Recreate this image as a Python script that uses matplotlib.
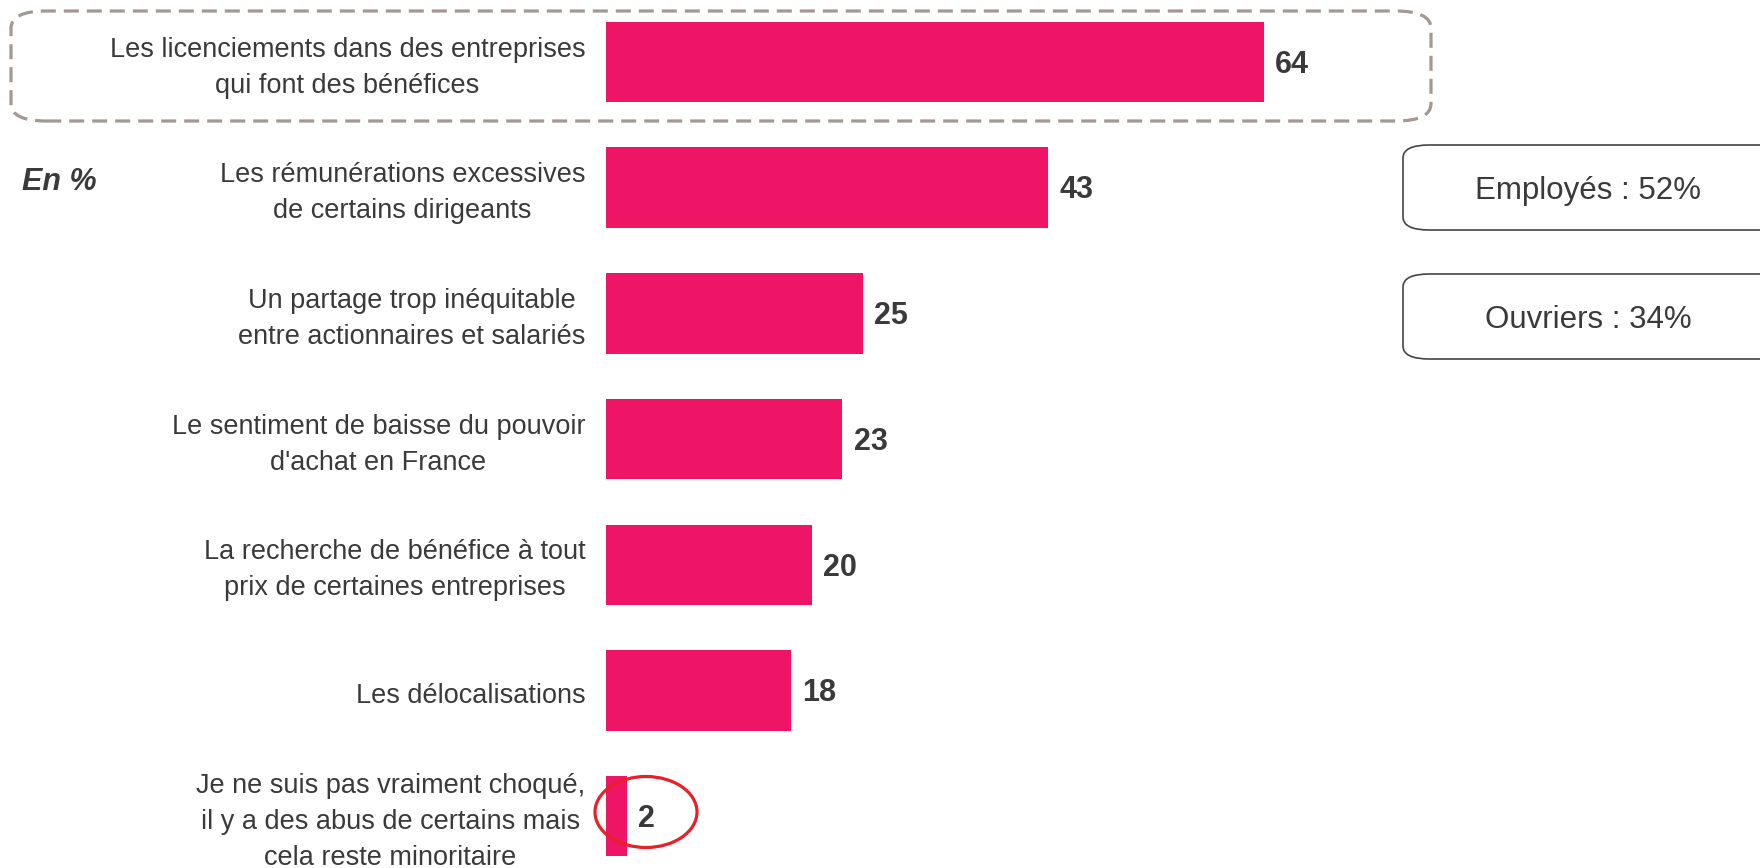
import numpy as np
import matplotlib.pyplot as plt
from matplotlib.patches import FancyBboxPatch, Ellipse

#********************************************#
# data
labels = ["Les licenciements dans des entreprises\nqui font des bénéfices",
          "Les rémunérations excessives\nde certains dirigeants",
          "Un partage trop inéquitable\nentre actionnaires et salariés",
          "Le sentiment de baisse du pouvoir\nd'achat en France",
          "La recherche de bénéfice à tout\nprix de certaines entreprises",
          "Les délocalisations",
          "Je ne suis pas vraiment choqué,\nil y a des abus de certains mais\ncela reste minoritaire"]
values = [64, 43, 25, 23, 20, 18, 2]
side_notes = ["Employés : 52%", "Ouvriers : 34%"]

bar_color = '#EE1466'
txt_color = '#3a3a3a'

#********************************************#
W, H = 1760, 868
plt.rcParams['font.family'] = ['Liberation Sans', 'DejaVu Sans']
fig = plt.figure(figsize=(W/100, H/100), dpi=100)

# axes spanning from the bar origin to the right edge
x0 = 606
ax = fig.add_axes([x0/W, 0, (W-x0)/W, 1])
ax.set_xlim(0, (W-x0)/10.28)
step = 125.7
ax.set_ylim((H-62)/step, -62/step)
ax.axis('off')

pos = np.arange(len(values))
ax.barh(pos, values, height=0.64, color=bar_color)

for i, v in enumerate(values):
    ax.annotate(str(v), (v, i), xytext=(8, -2), textcoords='offset points',
                ha='left', va='center', fontsize=22, fontweight='bold', color=txt_color)
    ax.annotate(labels[i], (0, i), xytext=(-15, -4), textcoords='offset points',
                ha='right', va='center', multialignment='center', fontsize=19.5,
                color=txt_color, linespacing=1.5, annotation_clip=False)

# "En %" label
fig.text(22/W, 1-182/H, 'En %', fontsize=22, fontweight='bold', fontstyle='italic',
         color=txt_color, va='center', ha='left')

# dashed highlight box round the first item
box = FancyBboxPatch((11/W, 1-121/H), (1431-11)/W, (121-11)/H,
                     boxstyle='round,pad=0,rounding_size=0.02', transform=fig.transFigure,
                     fill=False, edgecolor='#a39893', linewidth=2.3, linestyle=(0, (4.7, 2.5)))
fig.patches.append(box)

# side note boxes
for k, (top, bot) in enumerate([(145, 230), (274, 359)]):
    nb = FancyBboxPatch((1403/W, 1-bot/H), 400/W, (bot-top)/H,
                        boxstyle='round,pad=0,rounding_size=0.015', transform=fig.transFigure,
                        fill=False, edgecolor='#444444', linewidth=1.2)
    fig.patches.append(nb)
    fig.text(1588/W, 1-((top+bot)/2+4)/H, side_notes[k], fontsize=22.5, color=txt_color,
             ha='center', va='center')

# red ellipse round the smallest value
el = Ellipse((646/W, 1-812/H), 102/W, 71/H, transform=fig.transFigure,
             fill=False, edgecolor='#e8202a', linewidth=2.3)
fig.patches.append(el)

plt.savefig('out.png', dpi=100)
